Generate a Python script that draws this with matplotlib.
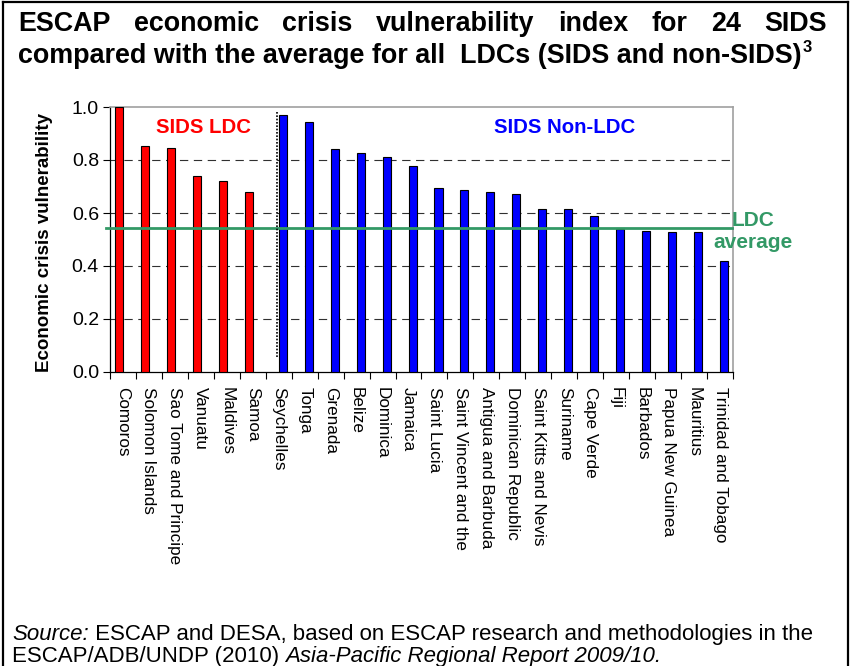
"""
ESCAP economic crisis vulnerability index for 24 SIDS vs LDC average.
"""

import matplotlib
matplotlib.use("Agg")
import matplotlib.pyplot as plt
from matplotlib.lines import Line2D
import numpy as np

plt.rcParams['font.family'] = ['Liberation Sans', 'DejaVu Sans']

# Data
ldc_countries = ["Comoros", "Solomon Islands", "Sao Tome and Principe",
                 "Vanuatu", "Maldives", "Samoa"]
ldc_values = [1.0, 0.853, 0.846, 0.74, 0.72, 0.68]

nonldc_countries = ["Seychelles", "Tonga", "Grenada", "Belize", "Dominica",
                    "Jamaica", "Saint Lucia", "Saint Vincent and the",
                    "Antigua and Barbuda", "Dominican Republic",
                    "Saint Kitts and Nevis", "Suriname", "Cape Verde", "Fiji",
                    "Barbados", "Papua New Guinea", "Mauritius",
                    "Trinidad and Tobago"]
nonldc_values = [0.969, 0.943, 0.841, 0.825, 0.813, 0.776, 0.696, 0.688,
                 0.679, 0.670, 0.615, 0.615, 0.590, 0.538, 0.533, 0.529,
                 0.529, 0.42]

LDC_AVERAGE = 0.543
yticks = [0.0, 0.2, 0.4, 0.6, 0.8, 1.0]

title_line1 = "ESCAP economic crisis vulnerability index for 24 SIDS"
title_line2 = "compared with the average for all  LDCs (SIDS and non-SIDS)"
footnote_mark = "3"

W, H = 852, 666
fig = plt.figure(figsize=(W / 100, H / 100), dpi=100)
ax = fig.add_axes([110 / W, 1 - 372 / H, 623 / W, 265 / H])

countries = ldc_countries + nonldc_countries
n_ldc = len(ldc_countries)
x_ldc = np.arange(n_ldc)
x_non = np.arange(n_ldc, len(countries))

# clustered bars: red series sits left, blue series right
ax.bar(x_ldc - 0.155, ldc_values, width=0.31, color='#FF0000',
       edgecolor='black', linewidth=0.8, zorder=3)
ax.bar(x_non + 0.155, nonldc_values, width=0.31, color='#0000FF',
       edgecolor='black', linewidth=0.8, zorder=3)

ax.set_xlim(-0.5, len(countries) - 0.5)
ax.set_ylim(0, 1.0)
ax.set_yticks(yticks)
ax.set_yticklabels([f"{v:.1f}" for v in yticks], fontsize=14)
for v in yticks[1:-1]:
    ax.axhline(v, color='#303030', lw=0.8, linestyle=(0, (7.5, 5)), zorder=1)

# ticks between categories, labels at the centres
ax.set_xticks(np.arange(-0.5, len(countries)), minor=False)
ax.set_xticklabels([])
ax.set_xticks(np.arange(len(countries)), minor=True)
ax.set_xticklabels(countries, minor=True, rotation=-90, fontsize=12.3,
                   va='top', ha='center')
ax.tick_params(axis='x', which='minor', length=0, pad=11)
ax.tick_params(axis='x', which='major', direction='out', length=5, width=0.8)
ax.tick_params(axis='y', direction='out', length=5, width=0.8, pad=3)

for s in ['left', 'bottom']:
    ax.spines[s].set_color('black')
    ax.spines[s].set_linewidth(0.9)
for s in ['top', 'right']:
    ax.spines[s].set_color('#A0A0A0')
    ax.spines[s].set_linewidth(1.2)

# LDC average line
ax.plot([-0.65, 23.45], [LDC_AVERAGE, LDC_AVERAGE], color='#339966',
        lw=2.0, clip_on=False, zorder=4)
# dotted separator between the two groups
ax.plot([5.95, 5.95], [0.058, 0.982], color='black', lw=1.2,
        linestyle=(0, (1, 1)), zorder=4)

ax.text(3.1, 0.922, "SIDS LDC", color='#FF0000', fontsize=14.7,
        fontweight='bold', ha='center', va='center')
ax.text(17.0, 0.922, "SIDS Non-LDC", color='#0000FF', fontsize=14.7,
        fontweight='bold', ha='center', va='center')
fig.text(753 / W, 1 - 231 / H, "LDC\naverage", color='#339966', fontsize=15,
         fontweight='bold', ha='center', va='center', linespacing=1.2)

fig.text(45 / W, 1 - 242 / H, "Economic crisis vulnerability", rotation=90,
         fontsize=13.5, fontweight='bold', ha='center', va='center')

# title, first line justified between the margins
words = title_line1.split()
tw = [fig.text(0, 1 - 31 / H, w, fontsize=19.4, fontweight='bold',
               va='baseline') for w in words]
t2 = fig.text(18 / W, 1 - 63 / H, title_line2, fontsize=19.4,
              fontweight='bold', va='baseline')
fig.canvas.draw()
r = fig.canvas.get_renderer()
widths = [t.get_window_extent(r).width for t in tw]
gap = (827 - 18 - sum(widths)) / (len(words) - 1)
xpos = 18
for t, w in zip(tw, widths):
    t.set_x(xpos / W)
    xpos += w + gap
t2w = t2.get_window_extent(r).width
fig.text((18 + t2w + 1) / W, 1 - 52 / H, footnote_mark, fontsize=12,
         fontweight='bold', va='baseline')

# source note
SRC_SIZE = 16
src1 = fig.text(12 / W, 1 - 640 / H, "Source:", fontsize=SRC_SIZE,
                style='italic', va='baseline')
fig.canvas.draw()
sw = src1.get_window_extent(r).width
fig.text((12 + sw) / W, 1 - 640 / H,
         " ESCAP and DESA, based on ESCAP research and methodologies in the",
         fontsize=SRC_SIZE, va='baseline')
src2 = fig.text(12 / W, 1 - 662 / H, "ESCAP/ADB/UNDP (2010) ",
                fontsize=SRC_SIZE, va='baseline')
fig.canvas.draw()
sw2 = src2.get_window_extent(r).width
fig.text((12 + sw2) / W, 1 - 662 / H, "Asia-Pacific Regional Report 2009/10.",
         fontsize=SRC_SIZE, style='italic', va='baseline')

# frame round the figure
for xs, ys in [([2.5, 2.5], [0, 664]), ([848, 848], [0, 664]),
               ([2.5, 848], [664, 664])]:
    fig.add_artist(Line2D(np.array(xs) / W, np.array(ys) / H, color='black',
                          lw=1.6, transform=fig.transFigure))

fig.savefig("out.png", dpi=100)
